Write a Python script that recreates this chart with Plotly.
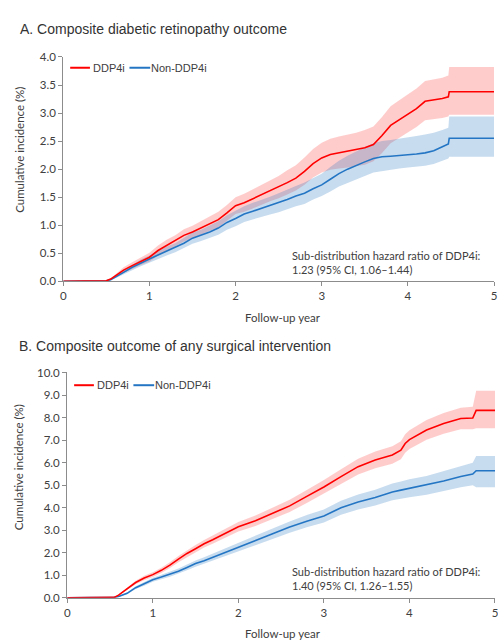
import plotly.graph_objects as go

# ---------------- Data ----------------
years_a = [0, 0.5, 0.55, 0.6, 0.7, 0.8, 0.9, 1.0, 1.1, 1.2, 1.3, 1.4, 1.5, 1.6, 1.7, 1.8, 1.9,
           2.0, 2.1, 2.2, 2.3, 2.4, 2.5, 2.6, 2.7, 2.8, 2.9, 3.0, 3.1, 3.2, 3.3, 3.4, 3.5, 3.6,
           3.7, 3.8, 3.9, 4.0, 4.1, 4.2, 4.3, 4.4, 4.47, 4.48, 5.0]
dpp4i_a = [0, 0.01, 0.04, 0.09, 0.20, 0.28, 0.36, 0.43, 0.55, 0.64, 0.72, 0.82, 0.88, 0.95, 1.03,
           1.10, 1.22, 1.35, 1.40, 1.47, 1.54, 1.62, 1.68, 1.76, 1.84, 1.96, 2.10, 2.20, 2.26,
           2.29, 2.31, 2.34, 2.38, 2.44, 2.60, 2.78, 2.88, 2.98, 3.08, 3.21, 3.23, 3.26, 3.29,
           3.38, 3.38]
dpp4i_a_hi = [0, 0.01, 0.05, 0.12, 0.25, 0.34, 0.43, 0.51, 0.64, 0.74, 0.82, 0.93, 0.99, 1.07,
              1.16, 1.24, 1.36, 1.50, 1.56, 1.64, 1.72, 1.81, 1.88, 1.98, 2.07, 2.21, 2.36, 2.47,
              2.54, 2.58, 2.61, 2.65, 2.70, 2.76, 2.93, 3.12, 3.23, 3.33, 3.44, 3.57, 3.60, 3.63,
              3.67, 3.82, 3.82]
dpp4i_a_lo = [0, 0.01, 0.03, 0.06, 0.15, 0.22, 0.29, 0.35, 0.46, 0.54, 0.62, 0.71, 0.77, 0.83,
              0.90, 0.96, 1.08, 1.20, 1.24, 1.30, 1.36, 1.43, 1.48, 1.55, 1.62, 1.72, 1.85, 1.94,
              1.99, 2.01, 2.03, 2.05, 2.08, 2.14, 2.29, 2.46, 2.56, 2.65, 2.75, 2.87, 2.89, 2.91,
              2.94, 2.97, 2.97]
non_a = [0, 0.01, 0.03, 0.07, 0.16, 0.25, 0.33, 0.40, 0.47, 0.54, 0.60, 0.68, 0.77, 0.82, 0.88,
         0.95, 1.05, 1.12, 1.20, 1.25, 1.30, 1.35, 1.40, 1.46, 1.52, 1.57, 1.65, 1.72, 1.82, 1.92,
         2.00, 2.07, 2.13, 2.19, 2.22, 2.23, 2.24, 2.25, 2.27, 2.29, 2.33, 2.40, 2.45, 2.55, 2.55]
non_a_hi = [0, 0.01, 0.04, 0.09, 0.20, 0.30, 0.39, 0.46, 0.54, 0.62, 0.68, 0.77, 0.87, 0.92, 0.99,
            1.07, 1.18, 1.26, 1.34, 1.40, 1.45, 1.51, 1.57, 1.64, 1.70, 1.76, 1.84, 1.92, 2.04,
            2.15, 2.24, 2.32, 2.39, 2.46, 2.50, 2.52, 2.54, 2.56, 2.59, 2.62, 2.65, 2.70, 2.74,
            2.94, 2.94]
non_a_lo = [0, 0.01, 0.02, 0.05, 0.12, 0.20, 0.27, 0.34, 0.40, 0.46, 0.52, 0.59, 0.67, 0.72, 0.77,
            0.83, 0.92, 0.98, 1.06, 1.10, 1.15, 1.19, 1.23, 1.28, 1.34, 1.38, 1.46, 1.52, 1.60,
            1.69, 1.76, 1.82, 1.88, 1.94, 1.97, 1.99, 2.01, 2.03, 2.05, 2.06, 2.09, 2.15, 2.19,
            2.22, 2.22]

years_b = [0, 0.55, 0.6, 0.7, 0.8, 0.9, 1.0, 1.1, 1.2, 1.3, 1.4, 1.5, 1.6, 1.7, 1.8, 1.9, 2.0,
           2.2, 2.4, 2.6, 2.8, 3.0, 3.2, 3.4, 3.6, 3.8, 3.9, 3.95, 4.0, 4.2, 4.4, 4.6, 4.74, 4.78, 5.0]
dpp4i_b = [0, 0.02, 0.12, 0.38, 0.68, 0.88, 1.03, 1.22, 1.45, 1.72, 1.97, 2.18, 2.40, 2.58, 2.76,
           2.95, 3.15, 3.42, 3.74, 4.08, 4.50, 4.92, 5.38, 5.82, 6.12, 6.34, 6.55, 6.85, 7.02,
           7.45, 7.74, 7.96, 7.98, 8.32, 8.32]
dpp4i_b_hi = [0, 0.02, 0.14, 0.43, 0.76, 0.98, 1.14, 1.34, 1.58, 1.86, 2.12, 2.34, 2.57, 2.76,
              2.95, 3.15, 3.36, 3.65, 3.99, 4.35, 4.79, 5.23, 5.71, 6.17, 6.49, 6.73, 6.95, 7.26,
              7.44, 7.89, 8.20, 8.44, 8.48, 9.19, 9.19]
dpp4i_b_lo = [0, 0.02, 0.10, 0.33, 0.60, 0.78, 0.92, 1.10, 1.32, 1.58, 1.82, 2.02, 2.23, 2.40,
              2.57, 2.75, 2.94, 3.19, 3.49, 3.81, 4.21, 4.61, 5.05, 5.47, 5.75, 5.95, 6.15, 6.44,
              6.60, 7.01, 7.28, 7.48, 7.48, 7.52, 7.52]
non_b = [0, 0.02, 0.06, 0.20, 0.45, 0.62, 0.80, 0.92, 1.04, 1.18, 1.35, 1.52, 1.65, 1.80, 1.95,
         2.10, 2.25, 2.55, 2.84, 3.14, 3.40, 3.63, 4.00, 4.25, 4.45, 4.70, 4.78, 4.82, 4.86, 4.99,
         5.18, 5.38, 5.49, 5.64, 5.64]
non_b_hi = [0, 0.02, 0.08, 0.24, 0.51, 0.70, 0.89, 1.02, 1.15, 1.30, 1.48, 1.66, 1.80, 1.96, 2.12,
            2.28, 2.44, 2.76, 3.07, 3.39, 3.67, 3.92, 4.31, 4.58, 4.80, 5.07, 5.16, 5.21, 5.26,
            5.41, 5.62, 5.85, 5.99, 6.29, 6.29]
non_b_lo = [0, 0.02, 0.04, 0.16, 0.39, 0.54, 0.71, 0.82, 0.93, 1.06, 1.22, 1.38, 1.50, 1.64, 1.78,
            1.92, 2.06, 2.34, 2.61, 2.89, 3.13, 3.34, 3.69, 3.92, 4.10, 4.33, 4.40, 4.43, 4.46,
            4.57, 4.74, 4.91, 4.99, 4.91, 4.91]

group_names = ["DDP4i", "Non-DDP4i"]
x_ticks = [0, 1, 2, 3, 4, 5]
panel_titles = ["A. Composite diabetic retinopathy outcome",
                "B. Composite outcome of any surgical intervention"]
hr_texts = ["Sub-distribution hazard ratio of DDP4i:<br>1.23 (95% CI, 1.06\u20131.44)",
            "Sub-distribution hazard ratio of DDP4i:<br>1.40 (95% CI, 1.26\u20131.55)"]

# ---------------- Styles ----------------
W, H = 498, 644
RED = "rgb(255,0,0)"
RED_BAND = "rgba(255,40,40,0.24)"
BLUE = "rgb(36,118,196)"
BLUE_BAND = "rgba(30,115,190,0.25)"
AXIS = "#8C8C8C"
TXT = "#404040"
LEG_FONT = dict(family="Liberation Sans, Arial, sans-serif", size=11, color=TXT)
TICKFONT = dict(family="Lato, Carlito, Calibri, sans-serif", size=11.5, color=TXT)


def px_x(x):
    return x / W


def px_y(y):
    return 1 - y / H


fig = go.Figure()


def add_panel(xa, ya, years, d, d_hi, d_lo, n, n_hi, n_lo):
    fig.add_trace(go.Scatter(x=years + years[::-1], y=d_hi + d_lo[::-1], fill="toself",
                             fillcolor=RED_BAND, line=dict(width=0), mode="lines",
                             hoverinfo="skip", showlegend=False, xaxis=xa, yaxis=ya))
    fig.add_trace(go.Scatter(x=years + years[::-1], y=n_hi + n_lo[::-1], fill="toself",
                             fillcolor=BLUE_BAND, line=dict(width=0), mode="lines",
                             hoverinfo="skip", showlegend=False, xaxis=xa, yaxis=ya))
    fig.add_trace(go.Scatter(x=years, y=n, mode="lines", name=group_names[1], showlegend=False,
                             line=dict(color=BLUE, width=1.6), xaxis=xa, yaxis=ya))
    fig.add_trace(go.Scatter(x=years, y=d, mode="lines", name=group_names[0], showlegend=False,
                             line=dict(color=RED, width=1.6), xaxis=xa, yaxis=ya))


add_panel("x", "y", years_a, dpp4i_a, dpp4i_a_hi, dpp4i_a_lo, non_a, non_a_hi, non_a_lo)
add_panel("x2", "y2", years_b, dpp4i_b, dpp4i_b_hi, dpp4i_b_lo, non_b, non_b_hi, non_b_lo)

axis_common = dict(showline=True, linecolor=AXIS, linewidth=1.3, ticks="outside", ticklen=4,
                   tickcolor=AXIS, tickwidth=1.3, showgrid=False, zeroline=False,
                   tickfont=TICKFONT, fixedrange=True)

fig.update_layout(
    width=W, height=H, margin=dict(l=0, r=0, t=0, b=0),
    paper_bgcolor="white", plot_bgcolor="white",
    xaxis=dict(domain=[px_x(61), px_x(497)], range=[0, 5], tickvals=x_ticks, anchor="y",
               ticklabeloverflow="allow", **axis_common),
    yaxis=dict(domain=[px_y(280), px_y(51)], range=[0, 4], dtick=0.5, tickformat=".1f",
               anchor="x", **axis_common),
    xaxis2=dict(domain=[px_x(65), px_x(498)], range=[0, 5], tickvals=x_ticks, anchor="y2",
                ticklabeloverflow="allow", **axis_common),
    yaxis2=dict(domain=[px_y(603), px_y(373)], range=[0, 10], dtick=1, tickformat=".1f",
                anchor="x2", **axis_common),
    showlegend=False,
)

ann_font = dict(family="Lato, Carlito, Calibri, sans-serif", size=11.5, color=TXT)
hr_font = dict(family="Lato, Carlito, Calibri, sans-serif", size=11, color=TXT)
title_font = dict(family="Liberation Sans, Arial, sans-serif", size=14, color="#333333")
annotations = [
    dict(text=panel_titles[0], x=px_x(15), y=px_y(22), xanchor="left", yanchor="middle",
         font=title_font),
    dict(text=panel_titles[1], x=px_x(14), y=px_y(346), xanchor="left", yanchor="middle",
         font=title_font),
    dict(text="Cumulative incidence (%)", x=px_x(16), y=px_y(146), textangle=-90,
         xanchor="center", yanchor="middle", font=ann_font),
    dict(text="Cumulative incidence (%)", x=px_x(16), y=px_y(470), textangle=-90,
         xanchor="center", yanchor="middle", font=ann_font),
    dict(text="Follow-up year", x=px_x(283), y=px_y(317), xanchor="center", yanchor="middle",
         font=ann_font),
    dict(text="Follow-up year", x=px_x(283), y=px_y(639), xanchor="center", yanchor="middle",
         font=ann_font),
    dict(text=hr_texts[0], x=px_x(290), y=px_y(261), xanchor="left", yanchor="middle",
         align="left", font=hr_font),
    dict(text=hr_texts[1], x=px_x(290), y=px_y(583), xanchor="left", yanchor="middle",
         align="left", font=hr_font),
]

# legend keys (line sample + label) for each panel
shapes = []
for (lx, ly) in [(68, 62), (72, 386)]:
    shapes.append(dict(type="line", xref="paper", yref="paper", x0=px_x(lx), x1=px_x(lx + 20),
                       y0=px_y(ly), y1=px_y(ly), line=dict(color=RED, width=2)))
    annotations.append(dict(text=group_names[0], x=px_x(lx + 21), y=px_y(ly), xanchor="left",
                            yanchor="middle", font=LEG_FONT))
    shapes.append(dict(type="line", xref="paper", yref="paper", x0=px_x(lx + 60),
                       x1=px_x(lx + 81), y0=px_y(ly), y1=px_y(ly),
                       line=dict(color=BLUE, width=2)))
    annotations.append(dict(text=group_names[1], x=px_x(lx + 80), y=px_y(ly), xanchor="left",
                            yanchor="middle", font=LEG_FONT))

for a in annotations:
    a.update(xref="paper", yref="paper", showarrow=False)
fig.update_layout(annotations=annotations, shapes=shapes)

fig.write_html("out.html", config={"displayModeBar": False},
               post_script="document.body.style.margin='0';")
